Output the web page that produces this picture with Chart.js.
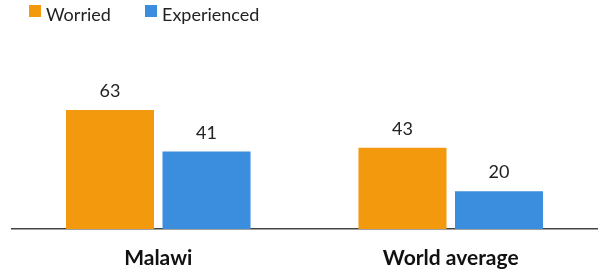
<!DOCTYPE html>
<html>
<head>
<meta charset="utf-8">
<script src="https://cdn.jsdelivr.net/npm/chart.js@4"></script>
<style>
  html, body { margin: 0; padding: 0; background: #fff; }
  #wrap { position: relative; width: 598px; height: 271px; }
  #legend { position: absolute; top: 0; left: 0; height: 28px; font-family: Lato, sans-serif; font-size: 18px; color: #222; }
  .item { position: absolute; top: 3px; line-height: 22px; white-space: nowrap; }
  .box { position: absolute; top: 5px; width: 12px; height: 12px; }
</style>
</head>
<body>
<div id="wrap">
  <canvas id="barChart" width="598" height="271"></canvas>
  <div id="legend"></div>
</div>
<script>
// Worried vs experienced, percent
const categories = ['Malawi', 'World average'];
const seriesNames = ['Worried', 'Experienced'];
const worried = [63, 43];
const experienced = [41, 20];
const colors = ['#f2990e', '#3b8ede'];

// legend (html)
const legendX = [29, 145];
const legend = document.getElementById('legend');
seriesNames.forEach((name, i) => {
    const box = document.createElement('div');
    box.className = 'box';
    box.style.left = legendX[i] + 'px';
    box.style.background = colors[i];
    legend.appendChild(box);
    const txt = document.createElement('div');
    txt.className = 'item';
    txt.style.left = (legendX[i] + 17) + 'px';
    txt.textContent = name;
    legend.appendChild(txt);
});

// value labels above bars
const valueLabels = {
    id: 'valueLabels',
    afterDatasetsDraw(chart) {
        const c = chart.ctx;
        c.save();
        c.font = '18px Lato';
        c.fillStyle = '#222';
        c.textAlign = 'center';
        c.textBaseline = 'alphabetic';
        chart.data.datasets.forEach((ds, i) => {
            chart.getDatasetMeta(i).data.forEach((bar, j) => {
                c.fillText(ds.data[j], bar.x, bar.y - 13);
            });
        });
        c.restore();
    }
};

const ctx = document.getElementById('barChart').getContext('2d');
const myChart = new Chart(ctx, {
    type: 'bar',
    data: {
        labels: categories,
        datasets: [{
            label: seriesNames[0],
            data: worried,
            backgroundColor: colors[0]
        }, {
            label: seriesNames[1],
            data: experienced,
            backgroundColor: colors[1]
        }]
    },
    options: {
        responsive: false,
        animation: false,
        barPercentage: 0.912,
        categoryPercentage: 0.66,
        layout: { padding: { top: 40, left: 12, right: 1, bottom: 2 } },
        plugins: {
            legend: { display: false },
            tooltip: { enabled: false }
        },
        scales: {
            x: {
                grid: { display: false },
                border: { display: true, color: '#444', width: 1.5 },
                afterFit(scale) { scale.height = 40; },
                ticks: {
                    color: '#111',
                    padding: 9,
                    font: { family: 'Lato', size: 21, weight: 'bold' }
                }
            },
            y: {
                display: false,
                min: 0,
                max: 100
            }
        }
    },
    plugins: [valueLabels]
});
</script>
</body>
</html>
